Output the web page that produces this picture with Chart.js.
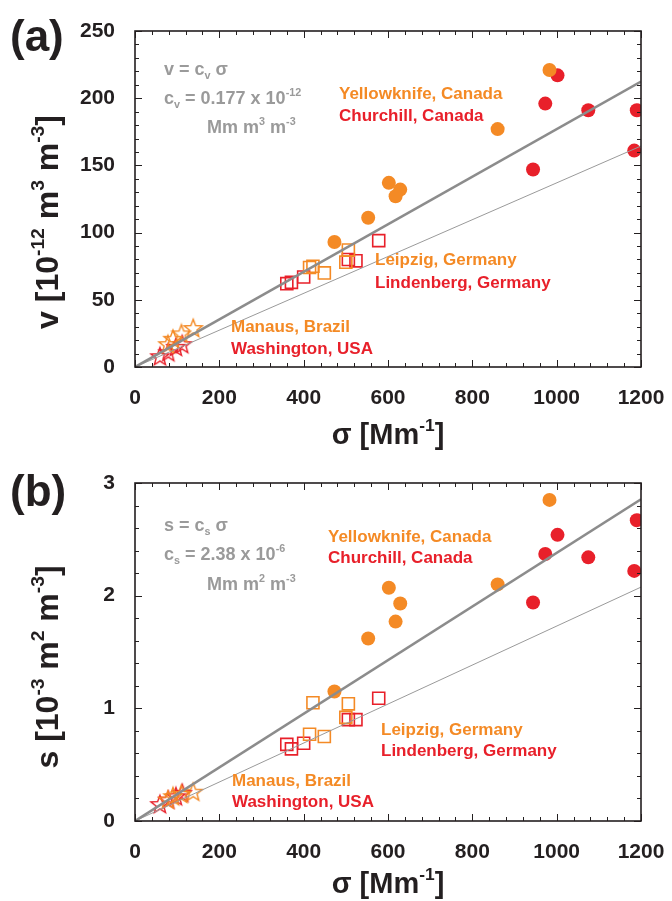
<!DOCTYPE html>
<html>
<head>
<meta charset="utf-8">
<script src="https://cdn.jsdelivr.net/npm/chart.js@4"></script>
<style>
    body { margin: 0; background: #fff; }
    #page { position: relative; width: 672px; height: 901px; overflow: hidden; font-family: "Liberation Sans", Arial, sans-serif; font-weight: bold; }
    canvas { position: absolute; left: 0; }
    .txt { position: absolute; white-space: nowrap; line-height: 1; }
    .txt sup, .txt sub { font-size: 0.6em; position: relative; line-height: 0; vertical-align: baseline; }
    .txt sup { top: -0.75em; }
    .txt sub { top: 0.4em; }
    .panel { font-size: 44px; color: #231f20; }
    .ytitle { font-size: 32px; color: #231f20; transform: translate(-50%, -50%) rotate(-90deg); }
    .xtitle { font-size: 29px; color: #231f20; transform: translate(-50%, -50%); }
    .eq { font-size: 18px; color: #9a9a9a; }
    .site { font-size: 17px; }
    .orange { color: #f48a25; }
    .red { color: #e8202a; }
</style>
</head>
<body>
<div id="page">
    <canvas id="chartV" width="672" height="450" style="top:0"></canvas>
    <canvas id="chartS" width="672" height="451" style="top:450px"></canvas>

    <!-- panel (a) text -->
    <div class="txt panel" style="left:10px; top:14px">(a)</div>
    <div class="txt ytitle" style="left:47px; top:222px">v [10<sup>-12</sup> m<sup>3</sup> m<sup>-3</sup>]</div>
    <div class="txt xtitle" style="left:388px; top:434px">σ [Mm<sup>-1</sup>]</div>
    <div class="txt eq" style="left:164px; top:60px">v = c<sub>v</sub> σ</div>
    <div class="txt eq" style="left:164px; top:89px">c<sub>v</sub> = 0.177 x 10<sup>-12</sup></div>
    <div class="txt eq" style="left:207px; top:118px">Mm m<sup>3</sup> m<sup>-3</sup></div>
    <div class="txt site orange" style="left:339px; top:85px">Yellowknife, Canada</div>
    <div class="txt site red" style="left:339px; top:107px">Churchill, Canada</div>
    <div class="txt site orange" style="left:375px; top:251px">Leipzig, Germany</div>
    <div class="txt site red" style="left:375px; top:274px">Lindenberg, Germany</div>
    <div class="txt site orange" style="left:231px; top:318px">Manaus, Brazil</div>
    <div class="txt site red" style="left:231px; top:340px">Washington, USA</div>

    <!-- panel (b) text -->
    <div class="txt panel" style="left:10px; top:469px">(b)</div>
    <div class="txt ytitle" style="left:47px; top:667px">s [10<sup>-3</sup> m<sup>2</sup> m<sup>-3</sup>]</div>
    <div class="txt xtitle" style="left:388px; top:883px">σ [Mm<sup>-1</sup>]</div>
    <div class="txt eq" style="left:164px; top:516px">s = c<sub>s</sub> σ</div>
    <div class="txt eq" style="left:164px; top:545px">c<sub>s</sub> = 2.38 x 10<sup>-6</sup></div>
    <div class="txt eq" style="left:207px; top:575px">Mm m<sup>2</sup> m<sup>-3</sup></div>
    <div class="txt site orange" style="left:328px; top:528px">Yellowknife, Canada</div>
    <div class="txt site red" style="left:328px; top:549px">Churchill, Canada</div>
    <div class="txt site orange" style="left:381px; top:721px">Leipzig, Germany</div>
    <div class="txt site red" style="left:381px; top:742px">Lindenberg, Germany</div>
    <div class="txt site orange" style="left:232px; top:772px">Manaus, Brazil</div>
    <div class="txt site red" style="left:232px; top:793px">Washington, USA</div>
</div>

<script>
// ===== Data (sigma in Mm-1, v in 1e-12 m3 m-3, s in 1e-3 m2 m-3) =====
const sigmaYellowknife = [983, 860, 602, 629, 618, 553, 473];
const vYellowknife     = [221, 177, 137, 132, 127, 111, 93];
const sYellowknife     = [2.85, 2.10, 2.07, 1.93, 1.77, 1.62, 1.15];

const sigmaChurchill = [1002, 973, 1075, 1190, 1184, 944];
const vChurchill     = [217, 196, 191, 191, 161, 147];
const sChurchill     = [2.54, 2.37, 2.34, 2.67, 2.22, 1.94];

const sigmaLeipzig = [506, 500, 422, 414, 449];
const vLeipzig     = [87, 78, 75, 74, 70];
const sLeipzig     = [1.04, 0.92, 1.05, 0.77, 0.75];

const sigmaLindenberg = [578, 506, 524, 400, 371, 360];
const vLindenberg     = [94, 80, 79, 67, 63, 62];
const sLindenberg     = [1.09, 0.90, 0.90, 0.69, 0.64, 0.68];

const sigmaManaus = [138, 110, 90, 78];
const vManaus     = [29, 25, 21, 17];
const sManaus     = [0.26, 0.24, 0.22, 0.19];

const sigmaWashington = [59, 79, 97, 112];
const vWashington     = [8, 11, 15, 17];
const sWashington     = [0.15, 0.19, 0.22, 0.25];

// fitted slopes: thick line = c, thin line = lower reference
const sigmaRange = [0, 1200];
const slopesV = [0.177, 0.137];
const slopesS = [0.00238, 0.00173];

const ORANGE = '#f48a25';
const RED = '#e8202a';
const FRAME = '#231f20';
const TICK_FONT = { family: '"Liberation Sans", Arial, sans-serif', size: 21, weight: 'bold' };

// ===== Star marker (outline 5-point star) =====
function starImage(color) {
    const c = document.createElement('canvas');
    c.width = 22; c.height = 22;
    const g = c.getContext('2d');
    const R = 9.5, r = 4;
    g.beginPath();
    for (let i = 0; i < 10; i++) {
        const rad = i % 2 === 0 ? R : r;
        const a = -Math.PI / 2 + i * Math.PI / 5;
        const px = 11 + rad * Math.cos(a), py = 11.8 + rad * Math.sin(a);
        i === 0 ? g.moveTo(px, py) : g.lineTo(px, py);
    }
    g.closePath();
    g.strokeStyle = color;
    g.lineWidth = 1.4;
    g.stroke();
    return c;
}

function pts(xs, ys) {
    return xs.map((x, i) => ({ x, y: ys[i] }));
}

function fitLine(slope) {
    return sigmaRange.map(x => ({ x, y: slope * x }));
}

// ===== Frame with inward ticks on all four sides =====
const frameTicks = {
    id: 'frameTicks',
    afterDraw(chart, args, opts) {
        const { ctx, chartArea: a, scales: { x, y } } = chart;
        ctx.save();
        ctx.strokeStyle = FRAME;
        ctx.lineWidth = 1;
        const nx = Math.round((x.max - x.min) / opts.xMinor);
        for (let i = 0; i <= nx; i++) {
            const px = Math.round(x.getPixelForValue(x.min + i * opts.xMinor)) + 0.5;
            const len = i % opts.xEvery === 0 ? 7 : 4;
            ctx.beginPath();
            ctx.moveTo(px, a.bottom); ctx.lineTo(px, a.bottom - len);
            ctx.moveTo(px, a.top); ctx.lineTo(px, a.top + len);
            ctx.stroke();
        }
        const ny = Math.round((y.max - y.min) / opts.yMinor);
        for (let i = 0; i <= ny; i++) {
            const py = Math.round(y.getPixelForValue(y.min + i * opts.yMinor)) + 0.5;
            const len = i % opts.yEvery === 0 ? 7 : 4;
            ctx.beginPath();
            ctx.moveTo(a.left, py); ctx.lineTo(a.left + len, py);
            ctx.moveTo(a.right, py); ctx.lineTo(a.right - len, py);
            ctx.stroke();
        }
        ctx.lineWidth = 1.6;
        ctx.strokeRect(a.left, a.top, a.right - a.left, a.bottom - a.top);
        ctx.restore();
    }
};

function makePanel(id, p) {
    const scatter = (label, data, color, style, radius, filled) => ({
        type: 'scatter', label, data,
        pointStyle: style,
        pointRadius: radius,
        pointBackgroundColor: filled ? color : 'rgba(0,0,0,0)',
        pointBorderColor: color,
        pointBorderWidth: filled ? 0 : 1.6,
        clip: 0
    });
    const line = (slope, width, color) => ({
        type: 'line', data: fitLine(slope),
        borderColor: color, borderWidth: width,
        pointRadius: 0, fill: false, clip: 0
    });

    return new Chart(document.getElementById(id), {
        data: {
            datasets: [
                line(p.slopes[0], 2.6, '#8c8c8c'),
                line(p.slopes[1], 1, '#9a9a9a'),
                scatter('Yellowknife, Canada', pts(sigmaYellowknife, p.yellowknife), ORANGE, 'circle', 7, true),
                scatter('Churchill, Canada', pts(sigmaChurchill, p.churchill), RED, 'circle', 7, true),
                scatter('Leipzig, Germany', pts(sigmaLeipzig, p.leipzig), ORANGE, 'rect', 8.5, false),
                scatter('Lindenberg, Germany', pts(sigmaLindenberg, p.lindenberg), RED, 'rect', 8.5, false),
                scatter('Manaus, Brazil', pts(sigmaManaus, p.manaus), ORANGE, starImage(ORANGE), 10, false),
                scatter('Washington, USA', pts(sigmaWashington, p.washington), RED, starImage(RED), 10, false)
            ]
        },
        options: {
            responsive: false,
            animation: false,
            events: [],
            layout: { padding: { left: 0, right: 31, top: p.top, bottom: 0 } },
            plugins: {
                legend: { display: false },
                tooltip: { enabled: false },
                frameTicks: p.ticks
            },
            scales: {
                x: {
                    type: 'linear', min: 0, max: 1200,
                    grid: { display: false, drawTicks: false },
                    border: { display: false },
                    ticks: { stepSize: 200, padding: 19, color: FRAME, font: TICK_FONT, maxRotation: 0, callback: v => String(v) },
                    afterFit: s => { s.height = p.xHeight; s.paddingLeft = 0; s.paddingRight = 0; }
                },
                y: {
                    type: 'linear', min: 0, max: p.yMax,
                    grid: { display: false, drawTicks: false },
                    border: { display: false },
                    ticks: { stepSize: p.yStep, padding: 20, color: FRAME, font: TICK_FONT, callback: v => String(v) },
                    afterFit: s => { s.width = 135; s.paddingTop = 0; s.paddingBottom = 0; }
                }
            }
        },
        plugins: [frameTicks]
    });
}

makePanel('chartV', {
    top: 31, xHeight: 83, yMax: 250, yStep: 50, slopes: slopesV,
    yellowknife: vYellowknife, churchill: vChurchill, leipzig: vLeipzig,
    lindenberg: vLindenberg, manaus: vManaus, washington: vWashington,
    ticks: { xMinor: 40, xEvery: 5, yMinor: 10, yEvery: 5 }
});

makePanel('chartS', {
    top: 33, xHeight: 80, yMax: 3, yStep: 1, slopes: slopesS,
    yellowknife: sYellowknife, churchill: sChurchill, leipzig: sLeipzig,
    lindenberg: sLindenberg, manaus: sManaus, washington: sWashington,
    ticks: { xMinor: 40, xEvery: 5, yMinor: 0.2, yEvery: 5 }
});
</script>
</body>
</html>
